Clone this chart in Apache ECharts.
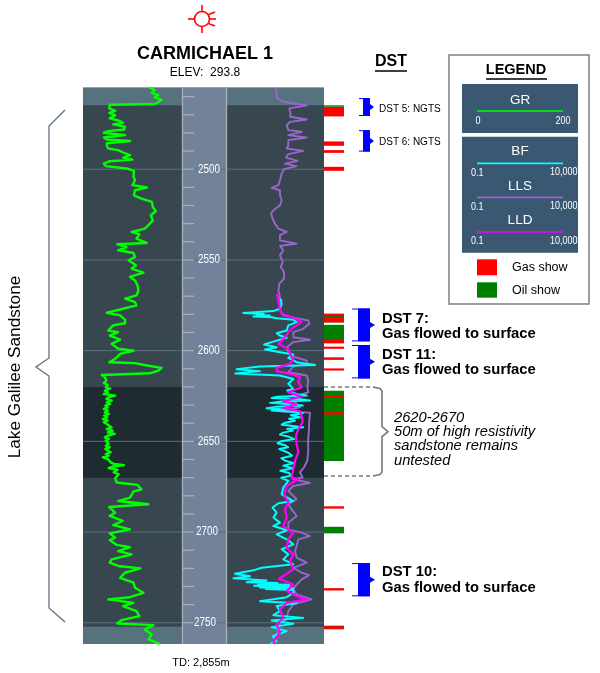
<!DOCTYPE html>
<html><head><meta charset="utf-8">
<style>html,body{margin:0;padding:0;background:#fff}#c{width:600px;height:673px}</style>
<script src="https://cdn.jsdelivr.net/npm/echarts@6/dist/echarts.min.js"></script>
</head><body><div id="c"></div>
<script>
// depth (m), GR (API)
const grCurve=[[2454.9,134],[2456.4,145],[2457.9,139],[2459.2,152],[2460.4,145],[2461.9,159],[2463.4,150],[2464.1,145],[2464.5,54],[2466.5,53],[2467.8,65],[2468.9,53],[2470.2,65],[2472,54],[2473.3,73],[2474.4,81],[2475.3,61],[2476.6,85],[2478.1,83],[2479,51],[2479.9,42],[2481.2,85],[2482.5,42],[2483.6,48],[2484.5,95],[2485.8,48],[2487.1,48],[2488.6,51],[2489.5,71],[2490.8,81],[2492.3,95],[2493.6,81],[2494.7,100],[2495.6,54],[2496.9,42],[2498.3,46],[2499.6,88],[2500.9,103],[2504.2,102],[2506.1,105],[2508.8,100],[2510.1,129],[2511.6,105],[2514.4,103],[2516.2,118],[2518,139],[2520.8,141],[2523.2,147],[2525.4,137],[2528.2,141],[2530.9,132],[2532.8,125],[2534.6,98],[2535.9,114],[2538.3,108],[2540.7,129],[2541.4,69],[2542.9,88],[2544.7,71],[2546.2,102],[2548.4,105],[2550.2,92],[2553,107],[2554.8,98],[2557,122],[2559.4,95],[2561.3,105],[2564,110],[2566.8,112],[2569.6,108],[2571.4,85],[2573.3,105],[2575.1,108],[2576.9,81],[2579.1,48],[2580.6,75],[2583,85],[2584.9,85],[2586.1,61],[2588.9,51],[2589.8,71],[2591.7,54],[2594,75],[2596.3,58],[2599,71],[2600.1,102],[2601.8,75],[2604.5,65],[2606.4,53],[2606.9,105],[2608.2,129],[2609.5,159],[2611,152],[2612.5,135],[2613.4,38],[2614.5,44],[2615.6,40],[2616.7,47],[2617.8,42],[2619,50],[2620.2,46],[2621,55],[2622,44],[2623,50],[2624,42],[2624.8,65],[2625.7,52],[2626.6,47],[2627.6,58],[2628.5,48],[2629.4,55],[2630.3,45],[2631.2,50],[2632.1,42],[2633,50],[2634,44],[2634.9,52],[2635.8,43],[2636.8,49],[2637.7,40],[2638.6,50],[2639.5,42],[2640.4,48],[2641.3,44],[2642.3,58],[2643.2,48],[2644.1,60],[2645,50],[2645.9,64],[2646.9,50],[2647.8,44],[2648.7,52],[2649.6,46],[2650.5,42],[2651.4,52],[2652.4,46],[2653.3,54],[2654.2,45],[2655.1,42],[2656,56],[2657,46],[2657.9,52],[2658.8,40],[2659.7,50],[2660.7,46],[2661.6,56],[2662.4,62],[2663.1,83],[2663.9,60],[2664.7,52],[2665.7,70],[2667.1,62],[2668.1,72],[2670.3,65],[2672.7,68],[2674,110],[2676.4,118],[2677.7,102],[2681,95],[2682.9,71],[2684.7,132],[2686.2,53],[2689.3,65],[2691.1,54],[2693.9,80],[2696.1,61],[2698.5,95],[2700.7,54],[2703.1,65],[2704.4,54],[2707.1,68],[2708.3,95],[2710.5,71],[2712.3,98],[2715.1,58],[2716.9,54],[2718.7,71],[2720,116],[2722.4,85],[2725.2,75],[2727.9,102],[2730.7,105],[2733.5,122],[2735.9,95],[2737.1,51],[2739,102],[2740.8,81],[2743.6,108],[2746.3,114],[2748.5,78],[2750.4,69],[2751.3,142],[2753.7,125],[2756.5,139],[2759.2,132],[2761.6,155]];
// depth (m), log10 of resistivity (ohm.m)
const llsCurve=[[2454.9,1.53],[2458.2,1.56],[2460.9,1.59],[2462.8,1.9],[2464.1,2.59],[2464.8,3.11],[2466.5,2.21],[2469.3,2.28],[2471.1,2.25],[2472.6,3.11],[2473.9,2.25],[2475.7,2.08],[2478.5,2.16],[2479.4,2.85],[2481.2,2.16],[2482.5,3.11],[2484,2.16],[2486.8,2.16],[2488.6,2.08],[2489.9,2.93],[2491.7,2.16],[2493.6,2.04],[2495.4,2.63],[2496.9,1.99],[2498.3,2.59],[2500,1.94],[2502.4,1.82],[2506.1,1.73],[2508.8,1.65],[2510.3,1.3],[2511.6,1.73],[2514.4,1.73],[2517.1,1.82],[2519.9,1.73],[2522.6,1.39],[2524.5,1.27],[2527.2,1.35],[2530,1.47],[2532.8,1.65],[2534.6,2.08],[2536.4,1.73],[2539.2,1.73],[2541,2.59],[2542.3,1.73],[2544.7,1.9],[2547.5,1.73],[2551.2,1.87],[2553.9,1.77],[2556.7,1.94],[2560.4,1.94],[2563.1,1.7],[2566.8,1.65],[2570.5,1.73],[2574.2,1.73],[2577.9,1.73],[2580.6,1.9],[2582.5,2.76],[2583.4,3.19],[2585.2,3.24],[2588,2.93],[2589.8,2.42],[2592.6,2.42],[2594,3.28],[2595.3,2.42],[2598.1,2.08],[2600.9,2.16],[2603.3,2.42],[2605.5,3.11],[2607.3,3.11],[2608.8,2.42],[2611.9,2.16],[2613.7,3.11],[2616.5,3.19],[2620.2,3.14],[2623,3.19],[2624.8,2.59],[2627.5,2.42],[2631.2,2.76],[2633.4,1.73],[2634.2,3.28],[2638.6,3.24],[2644.1,3.22],[2649.6,3.18],[2655.1,3.19],[2660.7,3.14],[2664.3,2.97],[2667.1,2.76],[2669.9,2.9],[2670.9,2.42],[2672.9,3.28],[2674.6,2.42],[2677.3,2.16],[2681.9,2.59],[2684.7,2.16],[2687.5,2.33],[2691.1,2.59],[2694.8,2.16],[2698.5,2.16],[2700.3,2.85],[2702.2,3.28],[2704,2.68],[2707.7,2.59],[2710.5,2.51],[2714.1,2.59],[2716.9,3.11],[2719.7,2.42],[2722.4,2.85],[2723.7,3.24],[2726.1,2.85],[2728.9,2.59],[2731.6,2.42],[2734.4,2.59],[2737.1,3.36],[2739.9,2.42],[2743.6,2.16],[2747.3,2.08],[2751,1.73],[2756.5,1.56],[2761.6,1.39]];
const bfCurve=[[2571.4,1.77],[2574.2,1.82],[2576.9,1.73],[2578.2,1.39],[2579.3,-0.16],[2579.8,0.9],[2580.3,0.53],[2580.7,1.2],[2581.2,0.36],[2581.6,1.3],[2582.1,1.56],[2583,2.42],[2584.3,2.59],[2586.1,2.16],[2588.9,2.08],[2590.4,1.56],[2591.7,1.73],[2592.9,2.08],[2595.3,1.3],[2596.6,0.91],[2598.1,1.56],[2599.4,0.96],[2600.9,1.73],[2602.1,2.42],[2604,2.16],[2606.4,2.59],[2607.9,3.54],[2608.8,0.7],[2610.2,-0.5],[2611.3,0.7],[2612.6,-0.57],[2613.7,1.73],[2615.6,2.42],[2618.3,2.16],[2621.1,2.42],[2622,2.1],[2623,2],[2624,2.6],[2624.8,3.11],[2625.4,1.6],[2626.1,1.3],[2626.8,2.8],[2627.5,3.28],[2628.1,1.8],[2628.8,1.22],[2629.5,2.3],[2630.3,2.9],[2631,1.5],[2631.8,1.04],[2632.4,2],[2633,1.3],[2633.8,2.6],[2634.5,2.9],[2635.6,2.3],[2636.7,2.76],[2637.6,2.2],[2638.6,2.5],[2639.7,2],[2640.8,1.82],[2641.5,2.4],[2642.3,2.93],[2643.2,2.1],[2644.1,2.4],[2645.2,1.9],[2646.3,1.73],[2647.5,2.2],[2648.7,2.45],[2649.9,1.8],[2651.1,1.6],[2652.2,2],[2653.3,2.15],[2654.2,1.7],[2655.1,1.6],[2656.5,2.2],[2657.9,2.35],[2659.3,1.8],[2660.7,2],[2662,2.45],[2663.4,1.9],[2664.8,2.4],[2666.2,1.75],[2667.5,2.2],[2668.9,2.3],[2670.1,1.8],[2671.8,2.16],[2675.5,1.9],[2679.2,1.82],[2682.9,2.42],[2684.1,1.65],[2686.5,1.35],[2689.3,1.56],[2692,1.39],[2694.8,1.73],[2696.7,1.39],[2699,2.08],[2701.3,1.56],[2704,2.08],[2706.8,2.42],[2709.5,1.82],[2712.3,2.16],[2715.1,1.9],[2717.8,2.42],[2719.7,0.79],[2721.1,0.36],[2723,-0.59],[2724.3,0.19],[2725.5,-0.67],[2726.7,1.04],[2727.2,0.5],[2727.6,0.01],[2728.1,1.6],[2728.6,0.6],[2729.1,2.2],[2729.6,0.4],[2730.1,2.3],[2730.6,0.7],[2731,2.4],[2731.4,1],[2731.9,2.42],[2733.5,2.42],[2735.9,2.08],[2738.1,0.7],[2739.2,2.59],[2740.8,1.56],[2743.6,1.73],[2745.8,1.39],[2747.3,2.93],[2748.7,1.3],[2750.6,2.42],[2752.4,1.3],[2754.6,2.08],[2757.4,1.35],[2760.1,1.56],[2761.6,1.22]];
const lldCurve=[[2568.7,1.56],[2572.3,1.65],[2576,1.7],[2579.7,1.82],[2581.9,2.42],[2584.3,2.85],[2587.1,2.42],[2589.8,2.16],[2592.6,1.99],[2596.3,1.65],[2599,2.16],[2601.8,2.25],[2604.5,2.42],[2607.3,2.25],[2609.5,1.56],[2611.3,1.56],[2613.2,2.42],[2614.7,2.76],[2617.4,2.68],[2620.2,2.85],[2623,2.16],[2625.3,2.85],[2627.9,1.9],[2629.8,2.59],[2631.6,1.9],[2633.4,2.76],[2635.8,2.85],[2639.5,2.9],[2643.2,2.68],[2646.9,2.56],[2651.5,2.59],[2656,2.68],[2660.7,2.51],[2665.3,2.42],[2669.9,2.33],[2670.9,2.68],[2674.6,2.08],[2679.2,1.94],[2683.8,2.16],[2687.5,1.99],[2692,2.08],[2696.7,1.9],[2700.3,2.42],[2704,2.16],[2708.6,2.08],[2712.3,2.42],[2716,2.25],[2720.6,2.42],[2724.3,1.9],[2725.7,1.68],[2728.9,2.42],[2732.5,2.08],[2735.3,2.59],[2737.1,3.11],[2739,2.08],[2742.7,1.73],[2747.3,1.9],[2751,1.56],[2755.5,1.73],[2759.2,1.47],[2761.6,1.39]];
// depth ranges
const gasShows=[[2465.7,2470.9],[2484.7,2487.1],[2489.5,2491],[2498.7,2500.9],[2579.7,2581],[2581.9,2584.4],[2594.1,2596],[2597.8,2599],[2603.7,2605.1],[2609.8,2611],[2624.9,2626.1],[2633.9,2635.2],[2685.8,2687.1],[2730.9,2732.2],[2751.9,2753.4]];
const oilShows=[[2464.8,2465.6],[2579.7,2584.5],[2585.8,2594.5],[2622.1,2660.8],[2697.1,2700.7],[2751.6,2753.6]];
const dstTests=[[2460.8,2470.7],[2478.5,2490.3],[2576.8,2594.9],[2596.9,2615.3],[2717.1,2735.4]];
const bandsLight=[[2454.7,2464.8],[2752.2,2761.7]];
const bandsDark=[[2620,2670]];
const depthTicks=[2460,2470,2480,2490,2500,2510,2520,2530,2540,2550,2560,2570,2580,2590,2600,2610,2620,2630,2640,2650,2660,2670,2680,2690,2700,2710,2720,2730,2740,2750];
const depthLabels=[2500,2550,2600,2650,2700,2750];
const labelCentre={2500:209,2550:209,2600:208.7,2650:208.7,2700:207,2750:205};
const D_MIN=2454.7,D_MAX=2761.7,TOP=87,H=557;
const grids=[{left:83,width:99},{left:182,width:45},{left:227,width:97},{left:324,width:20},{left:344,width:40}];
const rectSeries=(name,data,color,gi,z)=>({type:'custom',name,xAxisIndex:gi,yAxisIndex:gi,z,silent:true,clip:true,data:data,
 encode:{y:[0,1]},
 renderItem:(p,api)=>{const a=api.coord([0,api.value(0)]),b=api.coord([1,api.value(1)]);
  return {type:'rect',shape:{x:p.coordSys.x,y:a[1],width:p.coordSys.width,height:b[1]-a[1]},style:{fill:color}};}});
const grLine=(name,data,color,gi,w,z)=>({type:'line',name,xAxisIndex:gi,yAxisIndex:gi,z,data:data.map(d=>[d[1],d[0]]),showSymbol:false,symbol:'none',animation:false,lineStyle:{color,width:w,join:'round'},clip:true});
const tracks=[0,2];
const series=[];
tracks.forEach(g=>{series.push(rectSeries('light',bandsLight,'#57727f',g,1));series.push(rectSeries('dark',bandsDark,'#1e2b31',g,1));});
// depth gridlines across tracks
[0,1,2].forEach(g=>series.push({type:'custom',xAxisIndex:g,yAxisIndex:g,z:2,silent:true,data:depthLabels.map(d=>[d]),encode:{y:0},
 renderItem:(p,api)=>{const y=api.coord([0,api.value(0)])[1];return {type:'line',shape:{x1:p.coordSys.x,y1:y,x2:p.coordSys.x+p.coordSys.width,y2:y},style:{stroke:'#587080',lineWidth:1}};}}));
series.push({type:'custom',xAxisIndex:1,yAxisIndex:1,z:3,silent:true,data:depthTicks.map(d=>[d]),encode:{y:0},
 renderItem:(p,api)=>{const y=api.coord([0,api.value(0)])[1];return {type:'line',shape:{x1:183,y1:y,x2:194,y2:y},style:{stroke:'#a7afb8',lineWidth:1.3}};}});
series.push({type:'custom',xAxisIndex:1,yAxisIndex:1,z:4,silent:true,data:depthLabels.map(d=>[d]),encode:{y:0},
 renderItem:(p,api)=>{const d=api.value(0),y=api.coord([0,d])[1];return {type:'text',x:labelCentre[d],y:y,scaleX:0.82,style:{text:String(d),fill:'#fff',font:'12px "Liberation Sans"',align:'center',verticalAlign:'middle',backgroundColor:'#72829b',padding:[0,1]}};}});
series.push(grLine('GR',grCurve,'#00ff00',0,2.4,5));
series.push(grLine('LLS',llsCurve,'#9966cc',2,1.9,5));
series.push(grLine('BF',bfCurve,'#00ffff',2,2,6));
series.push(grLine('LLD',lldCurve,'#ff00ff',2,2.2,7));
series.push(rectSeries('Oil show',oilShows,'#008000',3,5));
series.push(rectSeries('Gas show',gasShows,'#ff0000',3,6));
// DST brackets: thin caps, solid bar, small arrow
const bracketBig=[false,false,true,true,true];
series.push({type:'custom',xAxisIndex:4,yAxisIndex:4,z:6,silent:true,clip:false,data:dstTests,encode:{y:[0,1]},
 renderItem:(p,api)=>{const i=p.dataIndex,a=api.coord([0,api.value(0)])[1],b=api.coord([0,api.value(1)])[1],m=(a+b)/2,big=bracketBig[i];
  const L=big?352:359,B=big?358:363,R=370,T=big?375:374;
  return {type:'group',children:[
   {type:'rect',shape:{x:L,y:a,width:R-L,height:1},style:{fill:'#0000ff'}},
   {type:'rect',shape:{x:L,y:b-1,width:R-L,height:1},style:{fill:'#0000ff'}},
   {type:'polygon',shape:{points:[[B,a],[R,a],[R,m-3],[T,m],[R,m+3],[R,b],[B,b]]},style:{fill:'#0000ff'}}]};}});
const hiddenX=[{min:0,max:200},{min:0,max:1},{min:-1,max:4},{min:0,max:1},{min:0,max:1}];
const option={animation:false,backgroundColor:'#fff',
 grid:grids.map(g=>({left:g.left,width:g.width,top:TOP,height:H,show:false})),
 xAxis:hiddenX.map((x,i)=>({type:'value',gridIndex:i,min:x.min,max:x.max,show:false})),
 yAxis:grids.map((g,i)=>({type:'value',gridIndex:i,min:D_MIN,max:D_MAX,inverse:true,show:false})),
 series,
 graphic:{elements:buildGraphic()}};
function T(x,y,text,o={}){return {type:'text',x,y,z:20,scaleX:o.sx||1,style:{text,fill:o.fill||'#000',font:(o.it?'italic ':'')+(o.b?'bold ':'')+(o.s||12)+'px "Liberation Sans"',align:o.a||'left',verticalAlign:'middle'}};}
function R(x,y,w,h,fill,o={}){return Object.assign({type:'rect',z:o.z||10,shape:{x,y,width:w,height:h},style:{fill,stroke:o.stroke||null,lineWidth:o.lw||0}});}
function Ln(x1,y1,x2,y2,stroke,lw=1,dash){return {type:'line',z:12,shape:{x1,y1,x2,y2},style:{stroke,lineWidth:lw,lineDash:dash||null}};}
function buildGraphic(){const e=[];
 // track backgrounds
 e.push(R(83,87,99,557,'#38474f',{z:-1}),R(227,87,97,557,'#38474f',{z:-1}),R(183,87,43,557,'#72829b',{z:-1}));
 e.push(Ln(182.5,87,182.5,644,'#a9b0b8',1.3),Ln(226.5,87,226.5,644,'#a9b0b8',1.3),Ln(83,87.5,324,87.5,'#9aa5ad',1));
 // well symbol
 e.push({type:'circle',z:12,shape:{cx:202,cy:19,r:7.5},style:{fill:'none',stroke:'#ff0000',lineWidth:1.6}});
 [[202,5,202,11],[202,27,202,33],[188,19,194,19],[210,19,216,19],[208.5,14.5,215,12],[208.5,23.5,215,26]].forEach(p=>e.push(Ln(p[0],p[1],p[2],p[3],'#ff0000',1.6)));
 e.push(T(205,54,'CARMICHAEL 1',{b:1,s:18,a:'center'}),T(205,73,'ELEV:  293.8',{s:12,a:'center'}));
 e.push(T(391,62,'DST',{b:1,s:16,a:'center'}),Ln(375,71,407,71,'#000',1.5));
 e.push(T(379,109,'DST 5: NGTS',{s:10}),T(379,142,'DST 6: NGTS',{s:10}));
 [['DST 7:',319],['Gas flowed to surface',334],['DST 11:',355],['Gas flowed to surface',370],['DST 10:',572],['Gas flowed to surface',588]].forEach(p=>e.push(T(382,p[1],p[0],{b:1,s:14.8})));
 e.push(T(201,663,'TD: 2,855m',{s:11,a:'center'}));
 // brace and label
 e.push({type:'polyline',z:12,shape:{points:[[65,110],[49,126],[49,358],[36,367],[49,376],[49,608],[65,622]]},style:{stroke:'#5f7282',lineWidth:1.3,fill:'none'}});
 e.push({type:'text',z:20,x:15,y:367,rotation:Math.PI/2,style:{text:'Lake Galilee Sandstone',font:'17.2px "Liberation Sans"',fill:'#000',align:'center',verticalAlign:'middle'}});
 // callout
 e.push(Ln(324,387,373,387,'#333',1,[4,3]),Ln(324,476,373,476,'#333',1,[4,3]));
 e.push({type:'polyline',z:12,shape:{points:[[373,387],[380,388.5],[382,391],[382,426.7],[388,431.7],[382,436.7],[382,472],[380,474.5],[373,476]]},style:{stroke:'#6b7b85',lineWidth:1.6,fill:'none'}});
 [['2620-2670',418],['50m of high resistivity',432],['sandstone remains',446],['untested',461]].forEach(p=>e.push(T(394,p[1],p[0],{it:1,s:14.7})));
 // legend
 e.push(R(449,55,140,249,'#fff',{stroke:'#7f7f7f',lw:1.5}));
 e.push(T(516,70,'LEGEND',{b:1,s:14.5,a:'center'}),Ln(486,79,547,79,'#000',1.5));
 e.push(R(462,84,116,49,'#3a5872'),R(462,136.7,116,116,'#3a5872'));
 const W='#fff';
 const small={s:11,sx:0.82,fill:W};
 e.push(T(520,100.7,'GR',{s:13.5,a:'center',fill:W}),Ln(477,111,563,111,'#00ff00',1.7),T(478,120.7,'0',{...small,a:'center'}),T(563,120.7,'200',{...small,a:'center'}));
 [['BF',151.7,163.3,'#00ffff'],['LLS',186.7,197.3,'#9966cc'],['LLD',220.7,232,'#ff00ff']].forEach(r=>{
  e.push(T(520,r[1],r[0],{s:13.5,a:'center',fill:W}),Ln(477,r[2],563,r[2],r[3],1.7),T(471,r[2]+9.2,'0.1',small),T(577.5,r[2]+8.7,'10,000',{...small,a:'right'}));});
 e.push(R(477,259.3,20,16,'#ff0000'),R(477,282.3,20,15.4,'#008000'));
 e.push(T(512,268,'Gas show',{s:12.5}),T(512,291,'Oil show',{s:12.5}));
 return e;}
const chart=echarts.init(document.getElementById('c'),null,{renderer:'canvas'});
chart.setOption(option);
</script></body></html>
